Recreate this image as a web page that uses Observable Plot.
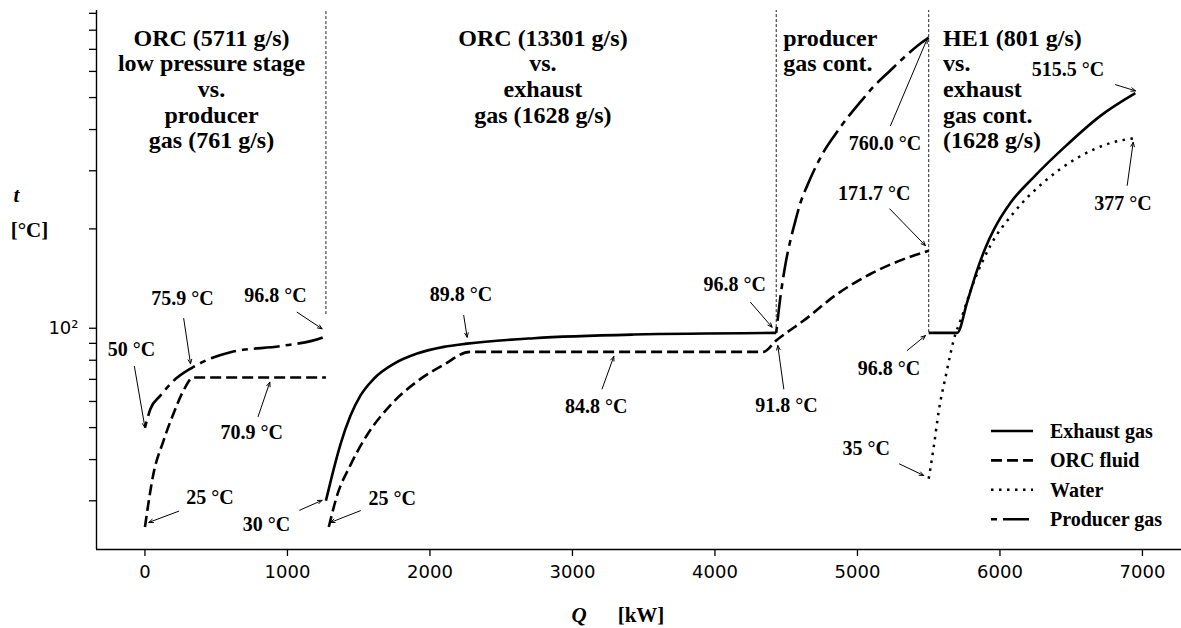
<!DOCTYPE html>
<html><head><meta charset="utf-8">
<script src="https://cdn.jsdelivr.net/npm/d3@7"></script>
<script src="https://cdn.jsdelivr.net/npm/@observablehq/plot@0.6"></script>
<style>body{margin:0;background:#fff;} #chart{width:1181px;height:628px;}</style>
</head><body><div id="chart"></div>
<script>
// ---- scales / ticks ----
const xDomain = [-340, 7274];
const yDomain = [21.36, 917.8];
const xTicks = [0, 1000, 2000, 3000, 4000, 5000, 6000, 7000];
const yTicks = [30, 40, 50, 60, 70, 80, 90, 100, 200, 300, 400, 500, 600, 700, 800, 900];

// ---- curves (Q in kW, t in °C) ----
const exhaustMidQ = [1270, 1325, 1372, 1442, 1512, 1606, 1746, 1910, 2097, 2260, 2728, 3430, 4430];
const exhaustMidT = [30, 37.5, 44.5, 54.3, 62.5, 70.3, 78, 83.8, 87.8, 89.8, 93.3, 95.7, 96.8];
const exhaustHeQ = [5500, 5700, 5770, 5840, 5900, 5960, 6074, 6237, 6472, 6705, 6950];
const exhaustHeT = [96.8, 96.8, 120, 150, 176, 200, 240, 287, 360, 440, 515.5];

const orcLowQ = [0, 60, 130, 200, 270, 340, 1270];
const orcLowT = [25, 36.3, 45.6, 55.1, 64.7, 70.9, 70.9];
const orcMainQ = [1290, 1349, 1442, 1559, 1723, 1910, 2097, 2280, 4340, 4430, 4623, 4858, 5091, 5325, 5500];
const orcMainT = [25, 31.2, 38.5, 47.5, 58.5, 69, 77.5, 84.8, 84.8, 91.8, 105.5, 127, 146, 162, 171.7];

const waterQ = [5500, 5535, 5571, 5618, 5688, 5723, 5816, 5933, 6097, 6307, 6542, 6775, 6950];
const waterT = [35, 43.6, 56.3, 71.1, 96.2, 105.5, 138, 178, 224, 277, 328, 364, 377];

const prodLowQ = [0, 39, 108, 202, 330, 600, 975, 1250, 1270];
const prodLowT = [50, 57, 62.5, 69.4, 75.9, 84.6, 88.6, 93.8, 96.8];
const prodContQ = [4430, 4459, 4495, 4530, 4565, 4600, 4647, 4694, 4764, 4834, 4904, 5021, 5114, 5232, 5349, 5465, 5500];
const prodContT = [96.8, 124, 156.6, 185, 212, 240, 270, 300, 343, 381, 420, 485, 540, 605, 675, 742, 760];

// ---- section separators ----
const sepQ = [1270, 4430, 5500];
const sepLowT = [110, 97, 97];

// ---- section titles ----
const titleCenterQ = [467, 2793];
const titleCenterText = [
  ["ORC (5711 g/s)", "low pressure stage", "vs.", "producer", "gas (761 g/s)"],
  ["ORC (13301 g/s)", "vs.", "exhaust", "gas (1628 g/s)"]
];
const titleLeftQ = [4479, 5601];
const titleLeftText = [
  ["producer", "gas cont."],
  ["HE1 (801 g/s)", "vs.", "exhaust", "gas cont.", "(1628 g/s)"]
];

// ---- annotations ----
const annLabel = ["50 °C","75.9 °C","96.8 °C","70.9 °C","25 °C","30 °C","25 °C","89.8 °C","84.8 °C","96.8 °C","91.8 °C","760.0 °C","171.7 °C","96.8 °C","35 °C","515.5 °C","377 °C"];
const annTextQ = [-95, 263, 916, 749, 456, 853, 1735, 2218, 3167, 4139, 4502, 5193, 5117, 5222, 5062, 6477, 6863];
const annTextT = [86.0, 122.8, 125.6, 48.4, 30.7, 25.4, 30.4, 126.3, 57.9, 135.4, 58.3, 362, 255, 75.3, 43.1, 606, 239];
const annTailQ = [-74, 272, 1068, 794, 237, 1086, 1512, 2237, 3208, 4249, 4483, 5232, 5227, 5349, 5295, 6811, 6893];
const annTailT = [76.6, 107.0, 111.8, 54.0, 27.9, 28.1, 28.0, 109.3, 65.5, 119.9, 65.5, 411, 229.9, 85.6, 38.8, 547, 271];
const annTipQ = [0, 320, 1243, 876, 27, 1243, 1302, 2261, 3290, 4401, 4441, 5489, 5477, 5477, 5465, 6951, 6935];
const annTipT = [50, 78, 99.6, 68.6, 25.8, 30.1, 25.8, 93.9, 82.1, 100.7, 88.6, 752, 178, 95.0, 35.8, 524, 366];

// ---- legend ----
const legendNames = ["Exhaust gas", "ORC fluid", "Water", "Producer gas"];
const dashOf = {"Exhaust gas": null, "ORC fluid": "11,5", "Water": "2.5,5.5", "Producer gas": "6,6,26,6"};

// ---- build tables ----
const rows = (Q, T, seg) => Q.map((q, i) => ({Q: q, T: T[i], seg}));
const exhaust = [...rows(exhaustMidQ, exhaustMidT, "a"), ...rows(exhaustHeQ, exhaustHeT, "b")];
const orc = [...rows(orcLowQ, orcLowT, "a"), ...rows(orcMainQ, orcMainT, "b")];
const water = rows(waterQ, waterT, "a");
const prod = [...rows(prodLowQ, prodLowT, "a"), ...rows(prodContQ, prodContT, "b")];
const seps = sepQ.map((q, i) => ({q, lo: sepLowT[i], hi: yDomain[1]}));
const anns = annLabel.map((l, i) => ({label: l, lq: annTextQ[i], lt: annTextT[i], aq: annTailQ[i], at: annTailT[i], pq: annTipQ[i], pt: annTipT[i]}));
const tC = titleCenterQ.map((q, i) => ({q, text: titleCenterText[i].join("\n")}));
const tL = titleLeftQ.map((q, i) => ({q, text: titleLeftText[i].join("\n")}));

const serif = "'Liberation Serif', 'Times New Roman', serif";
const lineOpts = {x: "Q", y: "T", z: "seg", stroke: "black", strokeWidth: 2.6, curve: "monotone-x", strokeLinecap: "butt"};

const plot = Plot.plot({
  width: 1181, height: 628,
  marginLeft: 96, marginRight: 0, marginTop: 10, marginBottom: 79,
  x: {domain: xDomain},
  y: {type: "log", domain: yDomain},
  style: {fontFamily: "'DejaVu Sans', sans-serif", fontSize: "18px", color: "black", background: "white", overflow: "visible"},
  marks: [
    Plot.ruleX(seps, {x: "q", y1: "lo", y2: "hi", stroke: "#222", strokeWidth: 1, strokeDasharray: "3,2"}),
    Plot.line(exhaust, {...lineOpts}),
    Plot.line(orc, {...lineOpts, strokeDasharray: dashOf["ORC fluid"]}),
    Plot.line(water, {...lineOpts, strokeWidth: 2.5, strokeDasharray: dashOf["Water"]}),
    Plot.line(prod, {...lineOpts, strokeDasharray: dashOf["Producer gas"]}),
    Plot.arrow(anns, {x1: "aq", y1: "at", x2: "pq", y2: "pt", stroke: "black", strokeWidth: 1, headLength: 7, headAngle: 45, bend: 0}),
    Plot.text(anns, {x: "lq", y: "lt", text: "label", fontFamily: serif, fontWeight: "bold", fontSize: 20, fill: "black"}),
    Plot.text(tC, {x: "q", text: "text", frameAnchor: "top", lineAnchor: "top", textAnchor: "middle", dy: 17, lineHeight: 1.07, fontFamily: serif, fontWeight: "bold", fontSize: 24, fill: "black"}),
    Plot.text(tL, {x: "q", text: "text", frameAnchor: "top", lineAnchor: "top", textAnchor: "start", dy: 17, lineHeight: 1.07, fontFamily: serif, fontWeight: "bold", fontSize: 24, fill: "black"}),
    Plot.ruleY([yDomain[0]], {stroke: "black", strokeWidth: 1.4}),
    Plot.ruleX([xDomain[0]], {stroke: "black", strokeWidth: 1.4}),
    Plot.axisX({ticks: xTicks, tickSize: 7, tickPadding: 9, tickFormat: d => String(d), fontSize: 18, strokeWidth: 1.3, label: null}),
    Plot.axisY({ticks: yTicks, tickSize: 7, tickPadding: 11, tickFormat: d => d === 100 ? "10²" : "", fontSize: 18, strokeWidth: 1.3, label: null}),
    Plot.text(["Q"], {text: d => d, frameAnchor: "bottom", textAnchor: "middle", lineAnchor: "middle", dx: -60, dy: 66, fontFamily: serif, fontWeight: "bold", fontStyle: "italic", fontSize: 21, fill: "black"}),
    Plot.text(["[kW]"], {text: d => d, frameAnchor: "bottom", textAnchor: "middle", lineAnchor: "middle", dx: 2, dy: 66, fontFamily: serif, fontWeight: "bold", fontSize: 21, fill: "black"}),
    Plot.text(["t"], {text: d => d, frameAnchor: "left", textAnchor: "middle", lineAnchor: "middle", dx: -80, dy: -85, fontFamily: serif, fontWeight: "bold", fontStyle: "italic", fontSize: 21, fill: "black"}),
    Plot.text(["[°C]"], {text: d => d, frameAnchor: "left", textAnchor: "middle", lineAnchor: "middle", dx: -67, dy: -50, fontFamily: serif, fontWeight: "bold", fontSize: 21, fill: "black"})
  ]
});
document.getElementById("chart").appendChild(plot);

// legend (lower right, inside the frame)
const svg = d3.select(plot);
const lg = svg.append("g").attr("transform", "translate(991,431)");
legendNames.forEach((name, i) => {
  const row = lg.append("g").attr("transform", `translate(0,${i * 29.4})`);
  row.append("line").attr("x1", 0).attr("x2", 42).attr("y1", 0).attr("y2", 0)
    .attr("stroke", "black").attr("stroke-width", name === "Water" ? 2.5 : 2.6)
    .attr("stroke-dasharray", dashOf[name]);
  row.append("text").attr("x", 59).attr("y", 0).attr("dy", "0.35em")
    .attr("text-anchor", "start")
    .attr("font-family", serif).attr("font-weight", "bold").attr("font-size", 20)
    .attr("fill", "black").text(name);
});
</script>
</body></html>
